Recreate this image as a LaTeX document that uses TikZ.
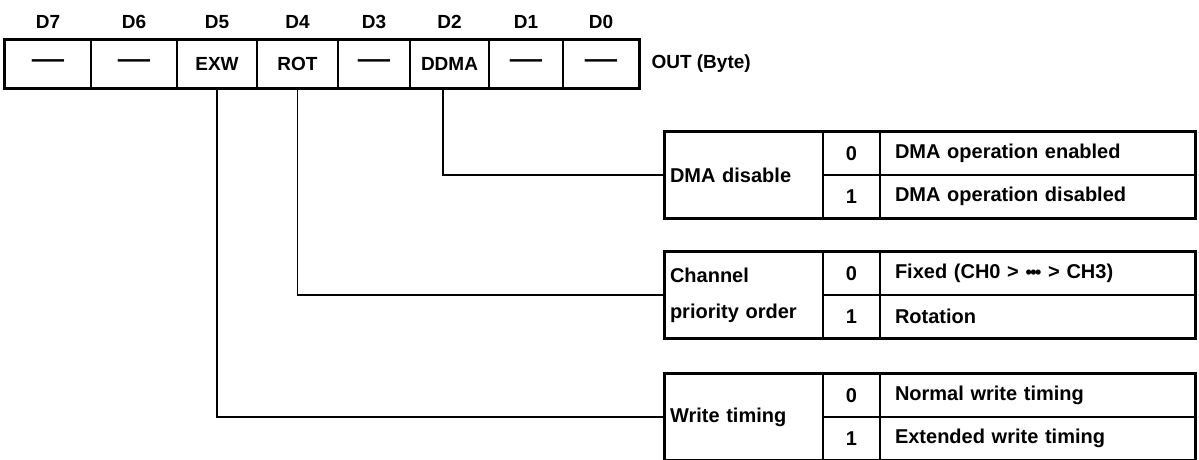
\documentclass[tikz,border=0pt]{standalone}
\usepackage{fontspec}
\setmainfont{Liberation Sans}
\usepackage{graphicx}
\usetikzlibrary{positioning}

\newcommand{\tiret}{\scalebox{1.7}[1.3]{\textemdash}}
\newcommand{\points}{{\fontsize{18}{18}\selectfont•\kern-1.5pt•\kern-1.5pt•}}

\begin{document}
\begin{tikzpicture}[
    x=1pt,
    y=-1pt,
    bit/.style={
        draw,
        line width=1.6pt,
        minimum height=48pt,
        inner sep=0pt,
        font=\bfseries\fontsize{19}{23}\selectfont
    },
    repere/.style={
        font=\bfseries\fontsize{19}{23}\selectfont
    },
    cadre/.style={
        line width=3pt
    },
    trait/.style={
        line width=1.8pt
    },
    titre/.style={
        draw,
        line width=1.6pt,
        text width=148pt,
        inner xsep=5pt,
        minimum height=86pt,
        align=left,
        font=\bfseries\fontsize{20}{36}\selectfont
    },
    valeur/.style={
        draw,
        line width=1.6pt,
        minimum width=57pt,
        minimum height=43pt,
        inner sep=0pt,
        font=\bfseries\fontsize{20}{25}\selectfont
    },
    texte/.style={
        draw,
        line width=1.6pt,
        text width=285pt,
        inner xsep=15pt,
        minimum height=43pt,
        align=left,
        font=\bfseries\fontsize{20}{25}\selectfont
    }
]
\useasboundingbox (0,0) rectangle (1199,459);

\node[bit, minimum width=86pt] (b7) at (48,64) {\tiret};
\node[bit, minimum width=86pt] (b6) at (134,64) {\tiret};
\node[bit, minimum width=80pt] (b5) at (217,64) {EXW};
\node[bit, minimum width=81pt] (b4) at (297.5,64) {ROT};
\node[bit, minimum width=72pt] (b3) at (374,64) {\tiret};
\node[bit, minimum width=79pt] (b2) at (449.5,64) {DDMA};
\node[bit, minimum width=74pt] (b1) at (526,64) {\tiret};
\node[bit, minimum width=76pt] (b0) at (601,64) {\tiret};
\draw[cadre] (b7.north west) rectangle (b0.south east);

\node[repere] (d7) at (48,22) {D7};
\node[repere] (d6) at (134,22) {D6};
\node[repere] (d5) at (217,22) {D5};
\node[repere] (d4) at (297.5,22) {D4};
\node[repere] (d3) at (374,22) {D3};
\node[repere] (d2) at (449.5,22) {D2};
\node[repere] (d1) at (526,22) {D1};
\node[repere] (d0) at (601,22) {D0};

\node[repere, anchor=west] (out) at (648,64) {OUT (Byte)};

% DMA disable
\node[titre] (dma) at (744,175) {DMA disable};
\node[valeur] (dma0) at (851.5,153.5) {0};
\node[valeur] (dma1) at (851.5,196.5) {1};
\node[texte] (dmat0) at (1037.5,153.5) {DMA operation enabled};
\node[texte] (dmat1) at (1037.5,196.5) {DMA operation disabled};
\draw[cadre] (dma.north west) rectangle (dmat1.south east);

% Channel priority order
\node[titre] (canal) at (744,295) {Channel\\priority order};
\node[valeur] (canal0) at (851.5,273.5) {0};
\node[valeur] (canal1) at (851.5,316.5) {1};
\node[texte] (canalt0) at (1037.5,273.5) {Fixed (CH0 > \points{} > CH3)};
\node[texte] (canalt1) at (1037.5,316.5) {Rotation};
\draw[cadre] (canal.north west) rectangle (canalt1.south east);

% Write timing
\node[titre] (ecr) at (744,417) {Write timing};
\node[valeur] (ecr0) at (851.5,395.5) {0};
\node[valeur] (ecr1) at (851.5,438.5) {1};
\node[texte] (ecrt0) at (1037.5,395.5) {Normal write timing};
\node[texte] (ecrt1) at (1037.5,438.5) {Extended write timing};
\draw[cadre] (ecr.north west) rectangle (ecrt1.south east);

\draw[trait] (b2.-105) |- (dma.west);
\draw[trait] (b4.south) |- (canal.west);
\draw[trait] (b5.south) |- (ecr.west);

\end{tikzpicture}
\end{document}
